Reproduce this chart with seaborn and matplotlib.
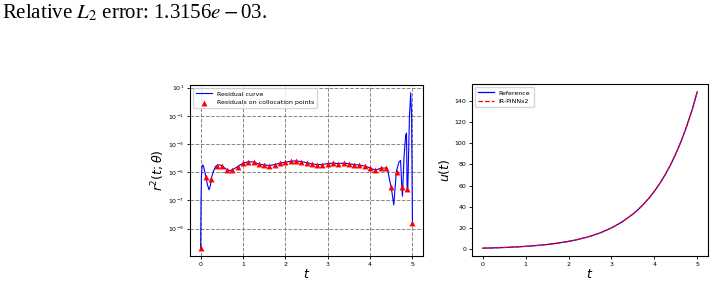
import matplotlib
matplotlib.use("Agg")
import matplotlib.pyplot as plt
import matplotlib.ticker as mticker
import seaborn as sns

plt.rcParams['mathtext.fontset'] = 'dejavusans'

# residual curve (t, r^2)
curve_t = [0.0, 0.01, 0.02, 0.035, 0.05, 0.07, 0.1, 0.125, 0.16, 0.2, 0.235, 0.25,
           0.3, 0.35, 0.375, 0.45, 0.5, 0.575, 0.625, 0.7, 0.75, 0.8, 0.875, 1.0,
           1.125, 1.25, 1.375, 1.5, 1.625, 1.75, 1.875, 2.0, 2.125, 2.25, 2.375,
           2.5, 2.625, 2.75, 2.875, 3.0, 3.125, 3.25, 3.375, 3.5, 3.625, 3.75,
           3.875, 4.0, 4.125, 4.25, 4.375, 4.42, 4.47, 4.5, 4.56, 4.62, 4.68,
           4.72, 4.75, 4.765, 4.8, 4.84, 4.86, 4.875, 4.89, 4.93, 4.96, 4.98, 5.0]
curve_r = [4.0e-11, 1.0e-7, 5.0e-6, 2.5e-5, 3.3e-5, 2.5e-5, 1.0e-5, 4.9e-6, 1.3e-6,
           5.6e-7, 1.3e-6, 3.5e-6, 1.1e-5, 2.5e-5, 2.95e-5, 3.3e-5, 2.95e-5,
           1.9e-5, 1.45e-5, 1.3e-5, 1.45e-5, 1.8e-5, 2.5e-5, 4.4e-5, 5.4e-5,
           5.4e-5, 3.7e-5, 3.3e-5, 2.95e-5, 3.5e-5, 4.4e-5, 5.1e-5, 6.0e-5,
           6.3e-5, 5.6e-5, 4.8e-5, 3.9e-5, 3.5e-5, 3.5e-5, 4.1e-5, 4.4e-5,
           4.1e-5, 4.4e-5, 3.9e-5, 3.5e-5, 3.2e-5, 2.7e-5, 2.0e-5, 1.4e-5,
           1.9e-5, 2.0e-5, 1.3e-5, 2.0e-6, 8.5e-7, 4.7e-8, 1.1e-5, 5.0e-5,
           6.8e-5, 8.5e-7, 2.0e-7, 1.0e-4, 4.0e-3, 6.0e-3, 6.5e-7, 5.0e-7,
           1.0e-1, 4.3e0, 1.0e-1, 2.3e-9]

# residuals on the collocation points
colloc_t = [i * 0.125 for i in range(41)]
colloc_r = [4.1e-11, 4.9e-6, 3.5e-6, 2.95e-5, 2.95e-5, 1.45e-5, 1.45e-5, 2.5e-5,
            4.4e-5, 5.4e-5, 5.4e-5, 3.7e-5, 3.3e-5, 2.95e-5, 3.5e-5, 4.4e-5,
            5.1e-5, 6.0e-5, 6.3e-5, 5.6e-5, 4.8e-5, 3.9e-5, 3.5e-5, 3.5e-5,
            4.1e-5, 4.4e-5, 4.1e-5, 4.4e-5, 3.9e-5, 3.5e-5, 3.2e-5, 2.7e-5,
            2.0e-5, 1.4e-5, 1.9e-5, 2.0e-5, 8.5e-7, 1.1e-5, 8.5e-7, 6.5e-7, 2.3e-9]

# solution curves
sol_t = [0.0, 0.25, 0.5, 0.75, 1.0, 1.25, 1.5, 1.75, 2.0, 2.25, 2.5, 2.75, 3.0,
         3.25, 3.5, 3.625, 3.75, 3.875, 4.0, 4.125, 4.25, 4.375, 4.5, 4.625,
         4.75, 4.875, 5.0]
u_ref = [1.0, 1.28, 1.65, 2.12, 2.72, 3.49, 4.48, 5.75, 7.39, 9.49, 12.18, 15.64,
         20.09, 25.79, 33.12, 37.5, 42.52, 48.2, 54.6, 61.9, 70.11, 79.4, 90.02,
         101.9, 115.58, 130.6, 148.41]
u_pred = [1.0, 1.28, 1.65, 2.12, 2.72, 3.49, 4.48, 5.75, 7.39, 9.49, 12.18, 15.64,
          20.09, 25.79, 33.12, 37.5, 42.52, 48.2, 54.6, 61.9, 70.11, 79.4, 90.02,
          101.9, 115.58, 130.6, 148.41]

fig = plt.figure(figsize=(7.16, 2.84), dpi=100)
ax1 = fig.add_axes([0.2654, 0.0986, 0.3254, 0.602])
ax2 = fig.add_axes([0.6592, 0.0986, 0.3296, 0.6056])

fig.text(0.003, 0.937, r"Relative $L_2$ error: 1.3156$e-$03.", fontsize=15,
         family='Liberation Serif', va='baseline', math_fontfamily='stix')

# left: residuals
ax1.set_yscale('log')
sns.lineplot(x=curve_t, y=curve_r, ax=ax1, color='blue', linewidth=0.8,
             estimator=None, sort=False, label='Residual curve')
sns.scatterplot(x=colloc_t, y=colloc_r, ax=ax1, color='red', marker='^', s=18,
                linewidth=0, label='Residuals on collocation points', zorder=3)
ax1.yaxis.set_major_locator(mticker.FixedLocator([1e1, 1e-1, 1e-3, 1e-5, 1e-7, 1e-9]))
ax1.yaxis.set_minor_locator(mticker.NullLocator())
ax1.grid(True, which='major', linestyle='--', color='dimgray', linewidth=0.7, alpha=0.8)
ax1.set_xlabel(r'$t$', fontsize=9, labelpad=1)
ax1.set_ylabel(r'$r^2(t;\theta)$', fontsize=9, labelpad=1)
ax1.tick_params(labelsize=4.5, length=2, width=0.6, pad=2)
ax1.legend(loc='upper left', fontsize=4.5, handlelength=2.5, borderpad=0.5)

# right: solution
sns.lineplot(x=sol_t, y=u_ref, ax=ax2, color='blue', linewidth=0.9, label='Reference')
sns.lineplot(x=sol_t, y=u_pred, ax=ax2, color='red', linewidth=0.9,
             linestyle='--', label='IR-PINNs2')
ax2.set_yticks([0, 20, 40, 60, 80, 100, 120, 140])
ax2.set_xlabel(r'$t$', fontsize=9, labelpad=1)
ax2.set_ylabel(r'$u(t)$', fontsize=9, labelpad=2)
ax2.tick_params(labelsize=4.5, length=2, width=0.6, pad=2)
ax2.legend(loc='upper left', fontsize=4.5, handlelength=2.5, borderpad=0.5)

fig.savefig('out.png', dpi=100)
